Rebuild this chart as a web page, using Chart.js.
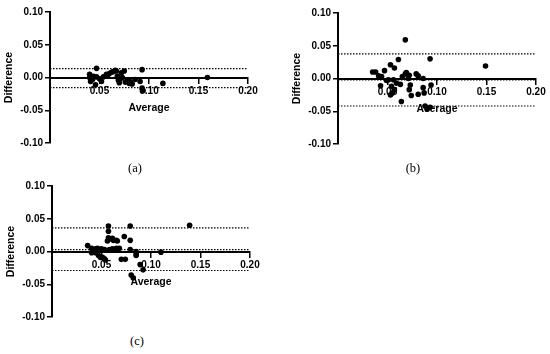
<!DOCTYPE html>
<html>
<head>
<meta charset="utf-8">
<script src="https://cdn.jsdelivr.net/npm/chart.js@4"></script>
<style>
  body { margin: 0; background: #fff; }
  #wrap { position: relative; width: 550px; height: 354px; overflow: hidden; }
  canvas { position: absolute; }
  .cap { position: absolute; font-family: 'Liberation Serif', serif; font-size: 12.5px; color: #000; transform: translate(-50%, -50%); }
</style>
</head>
<body>
<div id="wrap">
  <canvas id="chartA" width="265" height="152" style="left:0px;top:0px"></canvas>
  <canvas id="chartB" width="265" height="152" style="left:288px;top:1px"></canvas>
  <canvas id="chartC" width="265" height="152" style="left:2px;top:174px"></canvas>
  <div class="cap" style="left:135px;top:168px">(a)</div>
  <div class="cap" style="left:413px;top:168px">(b)</div>
  <div class="cap" style="left:137px;top:341px">(c)</div>
</div>
<script>
// panel (a)
const avgA = [0.047, 0.040, 0.040, 0.041, 0.043, 0.046, 0.047, 0.050, 0.052, 0.054, 0.057, 0.060, 0.062, 0.064, 0.066, 0.067, 0.068, 0.069, 0.070, 0.071, 0.073, 0.075, 0.076, 0.078, 0.080, 0.081, 0.083, 0.086, 0.091, 0.093, 0.093, 0.094, 0.114, 0.159, 0.044, 0.058, 0.072]
const diffA = [0.014, 0.005, 0.000, -0.006, -0.003, -0.011, 0.001, -0.002, -0.006, 0.001, 0.005, 0.006, 0.008, 0.009, 0.011, 0.010, 0.002, -0.004, -0.008, -0.002, 0.000, 0.010, -0.007, -0.004, -0.009, -0.006, -0.010, -0.003, -0.006, 0.012, -0.016, -0.020, -0.009, 0.000, 0.002, 0.003, 0.007]
const limitsA = [0.0135, -0.001, -0.0155]

// panel (b)
const avgB = [0.068, 0.093, 0.149, 0.061, 0.053, 0.057, 0.047, 0.035, 0.038, 0.041, 0.044, 0.043, 0.049, 0.051, 0.054, 0.055, 0.053, 0.057, 0.056, 0.059, 0.063, 0.064, 0.065, 0.068, 0.069, 0.072, 0.071, 0.073, 0.072, 0.074, 0.079, 0.081, 0.081, 0.086, 0.086, 0.087, 0.088, 0.090, 0.094, 0.093]
const diffB = [0.059, 0.030, 0.019, 0.029, 0.021, 0.016, 0.012, 0.010, 0.010, 0.004, 0.003, -0.011, -0.003, -0.002, -0.012, -0.022, -0.025, -0.017, -0.002, -0.007, -0.009, -0.035, 0.003, 0.007, 0.009, 0.005, 0.000, -0.010, -0.017, -0.026, 0.007, 0.004, -0.024, 0.000, -0.014, -0.022, -0.042, -0.047, -0.010, -0.044]
const limitsB = [0.0375, -0.002, -0.042]

// panel (c)
const avgC = [0.036, 0.040, 0.040, 0.041, 0.044, 0.046, 0.044, 0.047, 0.049, 0.051, 0.053, 0.054, 0.053, 0.050, 0.056, 0.057, 0.057, 0.057, 0.059, 0.061, 0.062, 0.058, 0.059, 0.061, 0.063, 0.065, 0.065, 0.068, 0.070, 0.074, 0.073, 0.066, 0.079, 0.079, 0.079, 0.085, 0.085, 0.085, 0.080, 0.082, 0.089, 0.092, 0.110, 0.139]
const diffC = [0.009, 0.005, -0.002, 0.002, 0.004, 0.005, -0.002, -0.006, -0.009, -0.009, -0.011, -0.013, 0.003, 0.004, 0.016, 0.039, 0.031, 0.021, 0.019, 0.020, 0.017, 0.003, 0.002, 0.004, 0.003, 0.005, 0.017, 0.005, -0.012, -0.012, 0.023, 0.016, 0.039, 0.017, 0.003, 0.000, -0.004, -0.006, -0.036, -0.040, -0.020, -0.028, -0.001, 0.040]
const limitsC = [0.036, 0.003, -0.029]

const xTicks = [0, 0.05, 0.10, 0.15, 0.20]
const yTicks = [-0.10, -0.05, 0, 0.05, 0.10]

const tickFont = { family: "'Liberation Sans', Arial, sans-serif", size: 10, weight: 'bold' }
const titleFont = { family: "'Liberation Sans', Arial, sans-serif", size: 10.5, weight: 'bold' }

function hLine(v) {
  return {
    type: 'line',
    data: [{ x: xTicks[0], y: v }, { x: xTicks[xTicks.length - 1], y: v }],
    borderColor: '#000',
    borderWidth: 1.2,
    borderDash: [1.5, 1.5],
    pointRadius: 0,
    fill: false,
  }
}

function makePanel(id, avg, diff, limits) {
  const pts = avg.map((a, i) => ({ x: a, y: diff[i] }))
  new Chart(document.getElementById(id), {
    type: 'scatter',
    data: {
      datasets: [
        hLine(limits[0]),
        hLine(limits[1]),
        hLine(limits[2]),
        {
          type: 'scatter',
          data: pts,
          backgroundColor: '#000',
          borderColor: '#000',
          pointRadius: 2.8,
          pointBorderWidth: 0,
        },
      ],
    },
    options: {
      responsive: false,
      animation: false,
      layout: { padding: { top: 12, bottom: 9, left: 0, right: 17 } },
      plugins: { legend: { display: false }, tooltip: { enabled: false } },
      scales: {
        x: {
          type: 'linear',
          position: { y: 0 },
          min: 0,
          max: 0.2,
          afterBuildTicks: (s) => { s.ticks = xTicks.map((v) => ({ value: v })) },
          ticks: {
            font: tickFont,
            color: '#000',
            padding: 3,
            maxRotation: 0,
            callback: (v) => (v === 0 ? '' : v.toFixed(2)),
          },
          grid: { drawOnChartArea: false, drawTicks: true, tickLength: 5, color: '#000', lineWidth: 1.5 },
          border: { color: '#000', width: 2 },
          title: { display: true, text: 'Average', font: titleFont, color: '#000', padding: { top: 1, bottom: 0 } },
        },
        y: {
          type: 'linear',
          min: -0.1,
          max: 0.1,
          afterBuildTicks: (s) => { s.ticks = yTicks.map((v) => ({ value: v })) },
          afterFit: (s) => { s.width = 50 },
          ticks: {
            font: tickFont,
            color: '#000',
            padding: 2,
            callback: (v) => v.toFixed(2),
          },
          grid: { drawOnChartArea: false, drawTicks: true, tickLength: 5, color: '#000', lineWidth: 1.5 },
          border: { color: '#000', width: 2 },
          title: { display: true, text: 'Difference', font: titleFont, color: '#000', padding: { top: 3, bottom: 2 } },
        },
      },
    },
  })
}

makePanel('chartA', avgA, diffA, limitsA)
makePanel('chartB', avgB, diffB, limitsB)
makePanel('chartC', avgC, diffC, limitsC)
</script>
</body>
</html>
